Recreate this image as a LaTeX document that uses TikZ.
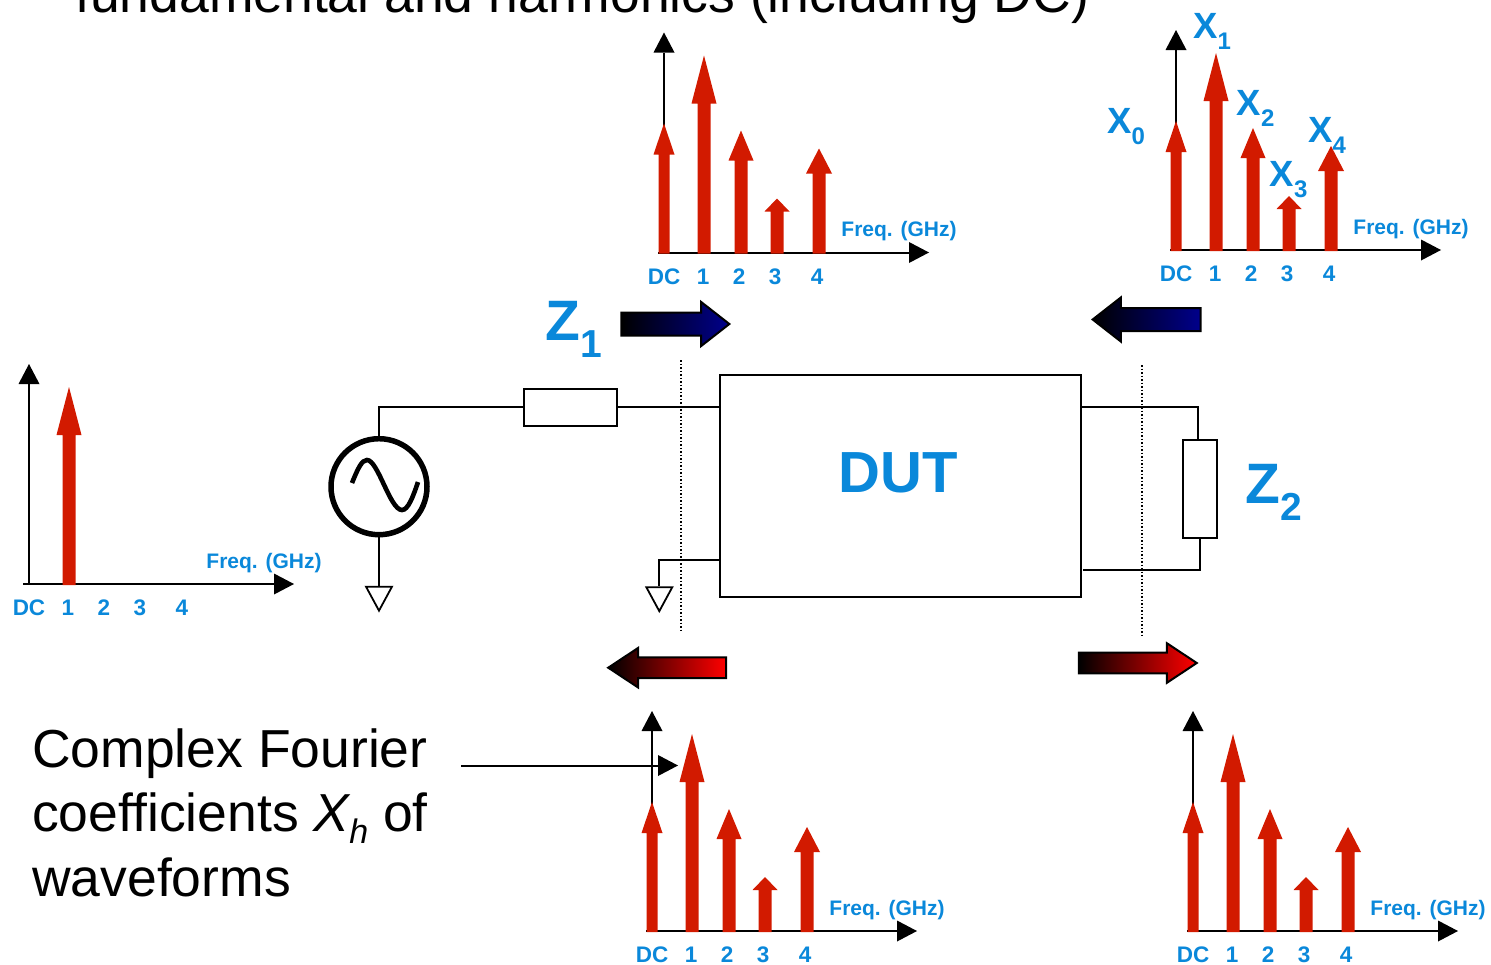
\documentclass[tikz,border=0pt]{standalone}
\usepackage{fontspec}
\setmainfont{Liberation Sans}
\usetikzlibrary{arrows.meta,shapes.arrows,shapes.geometric}
\definecolor{labelblue}{HTML}{0A88DA}
\definecolor{barred}{HTML}{D21A00}
\definecolor{navyend}{HTML}{00008C}
\newcommand{\fsz}[1]{\fontsize{#1}{#1}\selectfont}
\newcommand{\xlab}[2]{\fsz{36.5}#1{\fsz{24}\raisebox{-11pt}{#2}}}
\newcommand{\zlab}[2]{\fsz{57}#1{\fsz{39}\raisebox{-17pt}{#2}}}

\begin{document}
\begin{tikzpicture}[x=1pt,y=-1pt,>={Triangle[length=20pt,width=21pt,line width=0pt]}]
  \tikzstyle{every node}=[inner sep=0pt]
  \tikzstyle{tick}=[text=labelblue,font=\fsz{22.5}\bfseries,anchor=base]
  \tikzstyle{freq}=[text=labelblue,font=\fsz{21}\bfseries,anchor=base]
  \tikzstyle{coeff}=[text=labelblue,font=\bfseries,anchor=base]
  \tikzstyle{wire}=[line width=2pt]
  \tikzstyle{res}=[draw,fill=white,line width=2pt]
  \tikzstyle{gnd}=[draw,isosceles triangle,isosceles triangle stretches,shape border rotate=-90,
                   minimum width=26pt,minimum height=24pt,anchor=apex,line width=1.8pt]
  \tikzstyle{flow}=[draw=black,single arrow,line width=2pt,inner xsep=0pt,inner ysep=10.5pt,minimum height=108pt,
                    single arrow head extend=10.5pt,single arrow tip angle=76]
  \tikzstyle{flowred}=[flow,inner ysep=9.3pt,minimum height=118pt,
                       single arrow head extend=9.5pt,single arrow tip angle=67]
  \tikzstyle{plane}=[line width=1.3pt,dash pattern=on 1.5pt off 2pt]

  \useasboundingbox (0,0) rectangle (1491,964);

  \node[anchor=base west,font=\fsz{53.5}] (title) at (75,12.5) {fundamental and harmonics (including DC)};

  \foreach \ox/\oy/\nm in {664/252.5/a,1176/250/b,652/931/c,1193/931/d,29/584/e} {
    \begin{scope}[shift={(\ox,\oy)}]
      \coordinate (\nm o) at (0,0);
      \coordinate (\nm y) at (0,-220);
      \coordinate (\nm s) at (-6,0);
      \coordinate (\nm x) at (265,0);
      \draw[->,line width=1.7pt] (\nm o) -- (\nm y);
      \draw[->,line width=2pt] (\nm s) -- (\nm x);
      \node[freq] (\nm f) at (235,-16) {Freq. (GHz)};
      \foreach \tx/\tl/\tn in {0/DC/0,39/1/1,75/2/2,111/3/3,153/4/4}
        \node[tick] (\nm\tn) at (\tx,31.5) {\tl};
    \end{scope}
  }

  \foreach \ox/\oy/\bars in {664/252.5/{0/129/31/10.5/5.5,40/197/48/12.5/6.5,77/122/30/12.5/6.5,113/54/13/12.5/6.5,155/104/25/13/6.5},
                             1176/250/{0/129/31/10.5/5.5,40/197/48/12.5/6.5,77/122/30/12.5/6.5,113/54/13/12.5/6.5,155/104/25/13/6.5},
                             652/931/{0/129/31/10.5/5.5,40/197/48/12.5/6.5,77/122/30/12.5/6.5,113/54/13/12.5/6.5,155/104/25/13/6.5},
                             1193/931/{0/129/31/10.5/5.5,40/197/48/12.5/6.5,77/122/30/12.5/6.5,113/54/13/12.5/6.5,155/104/25/13/6.5},
                             29/584/{40/197/48/12.5/6.5}} {
    \begin{scope}[shift={(\ox,\oy)}]
      \foreach \bx/\bh/\bl/\bw/\sw in \bars
        \fill[barred] ({\bx-\sw},1) -- ({\bx-\sw},{\bl-\bh}) -- ({\bx-\bw},{\bl-\bh}) -- (\bx,-\bh)
                   -- ({\bx+\bw},{\bl-\bh}) -- ({\bx+\sw},{\bl-\bh}) -- ({\bx+\sw},1) -- cycle;
    \end{scope}
  }

  \node[coeff] (x0) at (1126,133) {\xlab{X}{0}};
  \node[coeff] (x1) at (1212,38) {\xlab{X}{1}};
  \node[coeff] (x2) at (1255.5,115) {\xlab{X}{2}};
  \node[coeff] (x3) at (1288.5,186) {\xlab{X}{3}};
  \node[coeff] (x4) at (1327,142) {\xlab{X}{4}};

  \node[coeff] (z1) at (574,340) {\zlab{Z}{1}};
  \node[coeff] (z2) at (1273.5,503) {\zlab{Z}{2}};

  \node[flow,left color=black,right color=navyend] (wavea) at (668,324) {};
  \node[flow,shape border rotate=180,left color=black,right color=navyend] (waveb) at (1154,319.5) {};
  \node[flowred,shape border rotate=180,left color=black,right color=red] (wavec) at (675,667.7) {};
  \node[flowred,left color=black,right color=red] (waved) at (1130,663) {};

  \node[draw,line width=2pt,minimum width=361pt,minimum height=222pt] (dut) at (900.5,486) {};
  \node[coeff,font=\fsz{58}\bfseries] (dutlabel) at (898,492) {DUT};

  \node[res,minimum width=93pt,minimum height=37pt] (rs) at (570.7,407) {};
  \node[res,minimum width=34pt,minimum height=98pt] (rl) at (1200,489) {};
  \node[draw,circle,line width=5.5pt,minimum size=96pt] (src) at (379,486.7) {};
  \draw[line width=4.6pt] (352,483) .. controls (358,468) and (362,460) .. (367,460)
        .. controls (378,460) and (390,510) .. (402,510) .. controls (408,510) and (413,497) .. (418,482);

  \node[gnd] (gnda) at (379,613) {};
  \node[gnd] (gndb) at (659.3,613.5) {};

  \coordinate (dutg) at (720,560);
  \coordinate (duta) at (1081,407);
  \coordinate (dutb) at (1083,570);
  \coordinate (rltop) at (1198,440);
  \draw[wire] (src.north) |- (rs.west);
  \draw[wire] (rs.east) -- (rs.east -| dut.west);
  \draw[wire] (src.south) -- (gnda.north);
  \draw[wire] (dutg) -| (gndb.north);
  \draw[wire] (duta) -| (rltop);
  \draw[wire] (rl.south) |- (dutb);

  \coordinate (pa1) at (681,360);
  \coordinate (pa2) at (681,633);
  \coordinate (pb1) at (1142,365);
  \coordinate (pb2) at (1142,638);
  \draw[plane] (pa1) -- (pa2);
  \draw[plane] (pb1) -- (pb2);

  \node[anchor=base west,align=left,font=\fontsize{53.5}{64.5}\selectfont] (fourier) at (32,896)
    {Complex Fourier\\coefficients {\itshape X{\fsz{34}\raisebox{-12pt}{h}}} of\\waveforms};
  \coordinate (calltail) at (461,765.5);
  \coordinate (calltip) at (678,765.5);
  \draw[->,line width=2pt] (calltail) -- (calltip);
\end{tikzpicture}
\end{document}
